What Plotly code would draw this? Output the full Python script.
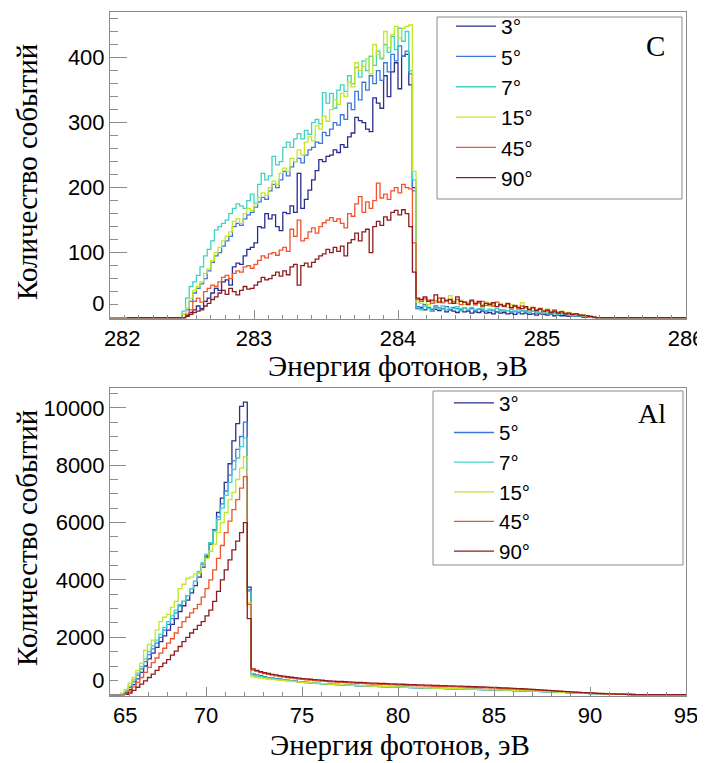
import numpy as np
import plotly.graph_objects as go

# ---------------- common ----------------
ANGLES = ["3°", "5°", "7°", "15°", "45°", "90°"]
COLORS = ["#2b2d8f", "#3b78d8", "#3fd3c4", "#c4e62a", "#f0542c", "#8e1c1c"]

# ---------------- Carbon (C) panel ----------------
C_XMIN, C_XMAX = 282.0, 286.0
C_BIN_START = 282.5
C_BIN_WIDTH = 0.025
C_XTICKS = [282, 283, 284, 285, 286]
C_YTICKS = [0, 100, 200, 300, 400]

c_rise_03 = [0, 3, 8, 12, 18, 14, 25, 30, 38, 45, 42, 55, 58, 50, 78, 84, 82, 95, 105, 108,
             115, 140, 138, 160, 152, 158, 140, 134, 162, 160, 172, 162, 222, 168, 182, 196, 212, 226, 243, 240,
             248, 250, 258, 254, 266, 262, 278, 284, 308, 303, 300, 290, 286, 338, 330, 322, 372, 340, 378, 392,
             352, 402, 405, 358]
c_rise_05 = [5, 12, 25, 38, 45, 52, 60, 72, 85, 95, 100, 110, 118, 125, 140, 145, 142, 152, 158, 162,
             170, 178, 185, 182, 195, 205, 200, 212, 225, 218, 232, 240, 245, 238, 250, 258, 262, 270, 268, 285,
             280, 290, 300, 296, 312, 305, 330, 320, 348, 335, 362, 350, 372, 360, 380, 365, 392, 378, 405, 395,
             418, 402, 410, 375]
c_rise_07 = [10, 30, 48, 55, 65, 78, 95, 105, 118, 135, 140, 145, 150, 160, 168, 175, 172, 168, 180, 190,
             176, 205, 222, 212, 218, 248, 235, 240, 262, 270, 262, 275, 283, 275, 288, 282, 300, 305, 298, 346,
             330, 345, 322, 350, 358, 348, 372, 360, 385, 370, 395, 380, 402, 388, 410, 398, 420, 408, 432, 412,
             445, 425, 440, 380]
c_rise_15 = [5, 15, 30, 42, 48, 55, 68, 75, 88, 100, 108, 118, 125, 132, 148, 152, 145, 160, 168, 165,
             175, 185, 192, 188, 200, 210, 205, 222, 230, 225, 245, 240, 258, 250, 270, 278, 272, 295, 290, 310,
             302, 320, 335, 328, 345, 340, 362, 355, 392, 380, 386, 398, 375, 420, 405, 400, 440, 415, 435, 448,
             430, 445, 448, 450]
c_rise_45 = [0, 5, 12, 25, 30, 24, 40, 45, 50, 48, 55, 62, 65, 60, 68, 72, 70, 78, 80, 76,
             82, 88, 95, 92, 98, 100, 96, 104, 108, 102, 136, 125, 150, 118, 122, 132, 138, 130, 140, 146,
             150, 154, 148, 152, 145, 138, 160, 156, 175, 186, 162, 178, 168, 180, 207, 184, 190, 182, 195, 200,
             192, 205, 200, 198]
c_rise_90 = [0, 2, 5, 8, 10, 12, 18, 22, 28, 32, 38, 42, 36, 45, 40, 35, 42, 48, 44, 45,
             50, 55, 62, 58, 60, 65, 70, 64, 72, 66, 78, 82, 50, 80, 84, 78, 85, 90, 95, 98,
             105, 100, 108, 102, 110, 95, 115, 120, 130, 118, 132, 136, 100, 140, 148, 142, 155, 150, 162, 165,
             158, 166, 160, 140]
c_edge = [200, 195, 212, 225, 115, 70]
c_tail_03 = [14, 16, 12, 15, 10, 13, 11, 14, 9, 12, 10, 8, 11, 9, 10, 7, 9, 8, 10, 7,
             8, 6, 9, 7, 8, 6, 7, 5, 8, 6, 7, 5, 6, 4, 6, 5, 4, 5, 3, 4, 3, 3, 2, 3, 2, 2, 1, 1, 1, 0, 0]
c_tail_05 = [17, 14, 20, 16, 13, 18, 15, 14, 17, 12, 16, 14, 13, 15, 12, 14, 11, 13, 12, 10,
             12, 11, 9, 12, 10, 11, 9, 10, 8, 11, 9, 8, 10, 7, 8, 9, 6, 7, 8, 5, 6, 5, 4, 4, 3, 3, 2, 2, 1, 1, 0]
c_tail_07 = [15, 12, 18, 14, 10, 16, 13, 18, 12, 15, 14, 17, 11, 15, 13, 16, 12, 14, 15, 11,
             13, 12, 14, 10, 12, 11, 13, 9, 12, 10, 11, 8, 10, 9, 8, 7, 9, 6, 7, 5, 6, 5, 4, 4, 3, 3, 2, 2, 1, 1, 0]
c_tail_15 = [24, 22, 28, 20, 25, 23, 30, 22, 26, 34, 24, 22, 27, 20, 24, 25, 19, 22, 20, 24,
             18, 21, 17, 22, 19, 16, 20, 18, 15, 23, 17, 14, 16, 12, 15, 11, 13, 10, 11, 9, 10, 7, 8, 6, 6, 5, 4, 3, 2, 1, 0]
c_tail_45 = [28, 25, 30, 27, 22, 26, 30, 24, 27, 22, 25, 28, 20, 24, 22, 26, 20, 23, 25, 19,
             22, 18, 24, 20, 17, 21, 16, 19, 14, 18, 15, 13, 16, 12, 14, 10, 11, 9, 12, 8, 9, 7, 6, 5, 6, 4, 3, 3, 2, 1, 0]
c_tail_90 = [30, 28, 32, 25, 27, 35, 24, 30, 26, 28, 22, 32, 25, 24, 20, 27, 22, 25, 18, 22,
             20, 23, 17, 20, 18, 22, 15, 18, 16, 14, 17, 12, 15, 11, 13, 10, 12, 8, 10, 7, 9, 6, 7, 5, 6, 4, 4, 3, 2, 1, 0]

c_rises = [c_rise_03, c_rise_05, c_rise_07, c_rise_15, c_rise_45, c_rise_90]
c_tails = [c_tail_03, c_tail_05, c_tail_07, c_tail_15, c_tail_45, c_tail_90]

# ---------------- Aluminium (Al) panel ----------------
A_XMIN, A_XMAX = 65.0, 95.0
A_BIN_START = 65.35
A_BIN_WIDTH = 0.2
A_XTICKS = [65, 70, 75, 80, 85, 90, 95]
A_YTICKS = [0, 2000, 4000, 6000, 8000, 10000]

a_rise_03 = [0, 0, 60, 180, 350, 550, 780, 1000, 1250, 1450, 1650, 1850, 2050, 2250, 2450, 2650, 2900,
             3100, 3300, 3550, 3800, 4100, 4450, 4800, 5250, 5750, 6350, 6850, 7400, 8050, 8850, 9450,
             10050, 10200]
a_rise_05 = [0, 20, 100, 250, 450, 680, 900, 1150, 1400, 1600, 1800, 2000, 2250, 2450, 2650, 2850, 3100,
             3250, 3450, 3700, 3950, 4250, 4550, 4850, 5300, 5750, 6200, 6650, 7100, 7650, 8150, 8550,
             9000, 9500]
a_rise_07 = [0, 30, 130, 300, 520, 750, 980, 1250, 1500, 1700, 1900, 2100, 2350, 2550, 2750, 2950, 3150,
             3250, 3450, 3700, 3950, 4300, 4600, 4900, 5300, 5700, 6100, 6500, 6950, 7400, 7850, 8250,
             8650, 8950]
a_rise_15 = [0, 50, 180, 400, 600, 850, 1100, 1550, 1750, 1900, 2250, 2550, 2700, 2800, 3050, 3250, 3700,
             3850, 4050, 4100, 4200, 4250, 4500, 4750, 5000, 5250, 5650, 6000, 6350, 6800, 7050, 7500,
             7900, 8300]
a_rise_45 = [0, 0, 40, 130, 270, 430, 600, 780, 950, 1120, 1280, 1450, 1620, 1800, 1950, 2150, 2350,
             2550, 2700, 2850, 3000, 3150, 3400, 3700, 4000, 4350, 4750, 5200, 5650, 6050, 6450, 6800,
             7200, 7600]
a_rise_90 = [0, 0, 10, 60, 150, 260, 370, 480, 600, 720, 850, 980, 1100, 1220, 1380, 1520, 1680,
             1850, 2000, 2150, 2280, 2420, 2550, 2750, 2950, 3250, 3600, 4000, 4350, 4700, 5050, 5350,
             5650, 6000]
a_edge = [3750, 3650, 3600, 3200, 3150, 2650]
a_tail_03 = [720, 682, 652, 618, 598, 574, 560, 538, 522, 503, 488, 472, 455, 442, 430, 418, 406, 396, 388, 378,
             371, 362, 356, 348, 340, 334, 328, 321, 316, 309, 304, 298, 293, 289, 283, 279, 274, 270, 266, 262,
             257, 253, 249, 245, 241, 237, 233, 229, 226, 222, 218, 214, 211, 207, 203, 199, 196, 192, 188, 184,
             180, 176, 172, 168, 164, 160, 156, 151, 147, 142, 138, 133, 128, 123, 118, 113, 107, 102, 96, 91,
             85, 80, 74, 68, 62, 57, 51, 46, 41, 37, 33, 28, 25, 21, 18, 15, 12, 10, 8, 6, 4, 3, 2, 1, 0]
a_tail_05 = [700, 665, 640, 612, 590, 570, 552, 535, 515, 500, 482, 468, 450, 438, 425, 415, 402, 392, 385, 376,
             368, 360, 352, 346, 338, 330, 325, 318, 312, 306, 300, 296, 290, 285, 280, 276, 270, 266, 262, 258,
             254, 250, 245, 242, 238, 234, 230, 226, 222, 218, 215, 211, 207, 203, 200, 196, 192, 189, 185, 181,
             178, 174, 170, 166, 162, 158, 154, 150, 146, 141, 137, 132, 127, 122, 117, 112, 107, 101, 96, 90,
             85, 79, 73, 67, 62, 56, 51, 46, 41, 37, 33, 29, 25, 21, 18, 15, 12, 10, 8, 6, 4, 3, 2, 1, 0]
a_tail_07 = [690, 660, 632, 605, 584, 565, 546, 528, 512, 496, 480, 465, 450, 437, 424, 413, 401, 390, 382, 372,
             365, 356, 349, 342, 335, 328, 322, 316, 310, 304, 299, 294, 288, 284, 279, 274, 270, 265, 261, 257,
             253, 249, 245, 241, 237, 233, 229, 225, 221, 218, 214, 210, 207, 203, 199, 196, 192, 188, 185, 181,
             177, 173, 170, 166, 162, 158, 154, 150, 145, 141, 136, 132, 127, 122, 117, 112, 106, 101, 95, 90,
             84, 78, 72, 67, 61, 56, 50, 45, 40, 36, 32, 28, 24, 21, 18, 15, 12, 10, 8, 6, 4, 3, 2, 1, 0]
a_tail_15 = [620, 600, 582, 565, 548, 532, 518, 504, 490, 478, 465, 454, 442, 432, 422, 412, 403, 394, 386, 378,
             370, 362, 356, 349, 342, 336, 330, 324, 318, 312, 307, 302, 297, 292, 287, 283, 278, 274, 270, 266,
             262, 258, 254, 250, 246, 242, 238, 234, 231, 227, 223, 219, 216, 212, 208, 204, 201, 197, 193, 189,
             185, 181, 177, 173, 169, 165, 161, 157, 152, 148, 143, 139, 134, 129, 124, 118, 113, 107, 102, 96,
             90, 84, 78, 72, 66, 60, 55, 49, 44, 39, 35, 30, 26, 23, 19, 16, 13, 11, 8, 6, 4, 3, 2, 1, 0]
a_tail_45 = [860, 810, 772, 738, 706, 680, 655, 633, 612, 594, 576, 560, 546, 532, 518, 506, 494, 483, 472, 462,
             452, 444, 435, 428, 420, 412, 405, 398, 392, 385, 379, 373, 368, 362, 357, 351, 346, 341, 336, 331,
             326, 322, 317, 313, 308, 304, 300, 295, 291, 287, 283, 279, 275, 270, 266, 262, 258, 254, 250, 245,
             241, 236, 232, 227, 222, 217, 212, 206, 200, 194, 188, 182, 175, 168, 161, 154, 147, 139, 132, 124,
             116, 108, 100, 92, 84, 77, 70, 63, 56, 50, 44, 38, 33, 28, 24, 20, 16, 13, 10, 7, 5, 3, 2, 1, 0]
a_tail_90 = [900, 850, 805, 770, 742, 712, 688, 664, 645, 626, 608, 592, 578, 562, 550, 538, 525, 514, 504, 494,
             485, 476, 468, 460, 452, 445, 438, 432, 425, 418, 412, 406, 401, 395, 390, 384, 378, 374, 369, 364,
             359, 354, 350, 345, 341, 336, 332, 327, 323, 318, 314, 310, 305, 301, 296, 292, 287, 283, 278, 273,
             268, 263, 258, 253, 247, 241, 235, 229, 222, 215, 208, 201, 194, 186, 178, 170, 162, 153, 145, 136,
             127, 118, 109, 100, 92, 84, 76, 68, 61, 54, 48, 42, 36, 31, 26, 22, 18, 14, 11, 8, 5, 3, 2, 1, 0]

a_rises = [a_rise_03, a_rise_05, a_rise_07, a_rise_15, a_rise_45, a_rise_90]
a_tails = [a_tail_03, a_tail_05, a_tail_07, a_tail_15, a_tail_45, a_tail_90]

# ---------------- layout geometry ----------------
# The page puts the figure 8 px in from the window's top-left corner,
# so the figure is 8 px smaller than the window and positions are given
# in window pixels (s) and converted.
OFF = 8
W, H = 705 - OFF, 763 - OFF


def px(s):
    return (s - OFF) / W


def py(s):
    return 1 - (s - OFF) / H


def hist_xy(start, width, counts, lo, hi):
    n = len(counts)
    edges = start + width * np.arange(n + 1)
    x = np.concatenate([[lo], edges, [hi]])
    y = np.concatenate([[0], np.asarray(counts, float), [0, 0]])
    return x, y


fig = go.Figure()

for i, name in enumerate(ANGLES):
    counts = c_rises[i] + [c_edge[i]] + c_tails[i]
    x, y = hist_xy(C_BIN_START, C_BIN_WIDTH, counts, C_XMIN, C_XMAX)
    fig.add_trace(go.Scatter(x=x, y=y, mode="lines", name=name,
                             line=dict(color=COLORS[i], width=1.3, shape="hv"),
                             xaxis="x", yaxis="y", legend="legend"))

for i, name in enumerate(ANGLES):
    counts = a_rises[i] + [a_edge[i]] + a_tails[i]
    x, y = hist_xy(A_BIN_START, A_BIN_WIDTH, counts, A_XMIN, A_XMAX)
    fig.add_trace(go.Scatter(x=x, y=y, mode="lines", name=name,
                             line=dict(color=COLORS[i], width=1.3, shape="hv"),
                             xaxis="x2", yaxis="y2", legend="legend2"))

GREY = "#8c8c8c"
SANS = "Liberation Sans, Arial, sans-serif"
SERIF = "Liberation Serif, Times New Roman, serif"
TICKFONT = dict(family=SANS, size=22, color="black")

ax_common = dict(showline=True, linecolor=GREY, linewidth=1, mirror=True,
                 ticks="inside", tickcolor=GREY, tickwidth=1, automargin=False,
                 showgrid=False, zeroline=False, tickfont=TICKFONT)

FS = "\u2007"  # figure space: nudges the first label off the corner, as in the original


def xlabels(vals, first_pad):
    out = [str(v) for v in vals]
    out[0] = first_pad + out[0]
    return out


def ylabels(vals):
    out = [str(v) for v in vals]
    out[0] = out[0] + "<br>" + FS
    return out


fig.update_layout(
    width=W, height=H,
    margin=dict(l=0, r=0, t=0, b=0, pad=0, autoexpand=False),
    paper_bgcolor="white", plot_bgcolor="white",
    xaxis=dict(ax_common, domain=[px(110), px(686)], range=[C_XMIN, C_XMAX], anchor="y",
               tickvals=C_XTICKS, ticktext=xlabels(C_XTICKS, FS + FS), ticklen=9,
               minor=dict(dtick=0.1, ticklen=4.5, ticks="inside", tickcolor=GREY, tickwidth=1)),
    yaxis=dict(ax_common, domain=[py(319), py(12)], range=[-2, 470], anchor="x",
               tickvals=C_YTICKS, ticktext=ylabels(C_YTICKS), ticklen=17,
               minor=dict(dtick=20, ticklen=8, ticks="inside", tickcolor=GREY, tickwidth=1)),
    xaxis2=dict(ax_common, domain=[px(110), px(686)], range=[A_XMIN, A_XMAX], anchor="y2",
                tickvals=A_XTICKS, ticktext=xlabels(A_XTICKS, FS + FS + "\u2008"), ticklen=9,
                minor=dict(dtick=1, ticklen=4.5, ticks="inside", tickcolor=GREY, tickwidth=1)),
    yaxis2=dict(ax_common, domain=[py(696), py(388)], range=[-45, 10690], anchor="x2",
                tickvals=A_YTICKS, ticktext=ylabels(A_YTICKS), ticklen=16,
                minor=dict(dtick=500, ticklen=8, ticks="inside", tickcolor=GREY, tickwidth=1)),
    legend=dict(x=px(451), y=py(6), xanchor="left", yanchor="top",
                bgcolor="rgba(0,0,0,0)", borderwidth=0, itemwidth=40, tracegroupgap=0,
                font=dict(family=SANS, size=21, color="black")),
    legend2=dict(x=px(449), y=py(383), xanchor="left", yanchor="top",
                 bgcolor="rgba(0,0,0,0)", borderwidth=0, itemwidth=40, tracegroupgap=0,
                 font=dict(family=SANS, size=20.5, color="black")),
    shapes=[
        dict(type="rect", xref="paper", yref="paper", x0=px(437), x1=px(682), y0=py(199), y1=py(17),
             line=dict(color=GREY, width=1), fillcolor="rgba(0,0,0,0)"),
        dict(type="rect", xref="paper", yref="paper", x0=px(433), x1=px(683), y0=py(565), y1=py(391),
             line=dict(color=GREY, width=1), fillcolor="rgba(0,0,0,0)"),
    ],
    annotations=[
        dict(text="Количество событий", xref="paper", yref="paper", x=px(27), y=py(172),
             textangle=-90, showarrow=False, xanchor="center", yanchor="middle",
             font=dict(family=SERIF, size=29, color="black")),
        dict(text="Количество событий", xref="paper", yref="paper", x=px(27), y=py(538),
             textangle=-90, showarrow=False, xanchor="center", yanchor="middle",
             font=dict(family=SERIF, size=29, color="black")),
        dict(text="Энергия фотонов, эВ", xref="paper", yref="paper", x=px(398), y=py(366),
             showarrow=False, xanchor="center", yanchor="middle",
             font=dict(family=SERIF, size=29, color="black")),
        dict(text="Энергия фотонов, эВ", xref="paper", yref="paper", x=px(400), y=py(745),
             showarrow=False, xanchor="center", yanchor="middle",
             font=dict(family=SERIF, size=29, color="black")),
        dict(text="C", xref="paper", yref="paper", x=px(655), y=py(46),
             showarrow=False, xanchor="center", yanchor="middle",
             font=dict(family=SERIF, size=29, color="black")),
        dict(text="Al", xref="paper", yref="paper", x=px(652), y=py(413),
             showarrow=False, xanchor="center", yanchor="middle",
             font=dict(family=SERIF, size=28, color="black")),
    ],
)

fig.write_html("out.html")
